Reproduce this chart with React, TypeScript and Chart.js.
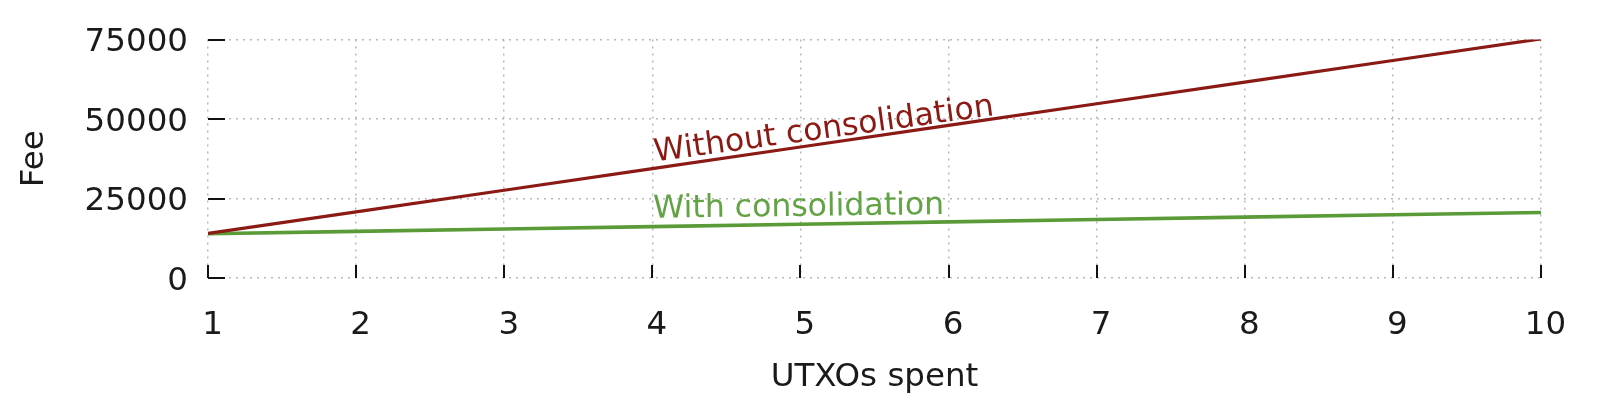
import React, { useEffect, useRef } from "react";
import { Chart, registerables } from "chart.js";

Chart.register(...registerables);

// ---- data ----
const utxosSpent = [1, 2, 3, 4, 5, 6, 7, 8, 9, 10];
const feeWithoutConsolidation = [14000, 20800, 27600, 34400, 41200, 48000, 54800, 61600, 68400, 75200];
const feeWithConsolidation = [13900, 14650, 15400, 16150, 16900, 17650, 18400, 19150, 19900, 20600];
const seriesNames = ["Without consolidation", "With consolidation"];
const xTickValues = [1, 2, 3, 4, 5, 6, 7, 8, 9, 10];
const yTickValues = [0, 25000, 50000, 75000];
const xAxisTitle = "UTXOs spent";
const yAxisTitle = "Fee";
const labelAtUtxos = 4;

// ---- style ----
const FONT = "'DejaVu Sans', sans-serif";
const FONT_SIZE = 32.5;
const TEXT_COLOR = "#1a1a1a";
const RED = "#8b1a14";
const GREEN = "#5a9a37";
const GREEN_TEXT = "#62a343";
const GRID = "#b8b8b8";

const inwardTicks = {
  id: "inwardTicks",
  afterDatasetsDraw(chart: any) {
    const { ctx, chartArea, scales } = chart;
    const x = scales.x;
    const y = scales.y;
    ctx.save();
    ctx.strokeStyle = "#111";
    ctx.lineWidth = 2;
    ctx.beginPath();
    x.ticks.forEach((t: any) => {
      const px = Math.round(x.getPixelForValue(t.value));
      ctx.moveTo(px, chartArea.bottom);
      ctx.lineTo(px, chartArea.bottom - 13);
    });
    y.ticks.forEach((t: any) => {
      const py = Math.round(y.getPixelForValue(t.value));
      ctx.moveTo(chartArea.left, py);
      ctx.lineTo(chartArea.left + 17, py);
    });
    ctx.stroke();
    ctx.restore();
  },
};

const lineLabels = {
  id: "lineLabels",
  afterDatasetsDraw(chart: any) {
    const { ctx, scales } = chart;
    const x = scales.x;
    const y = scales.y;
    const idx = utxosSpent.indexOf(labelAtUtxos);
    const items = [
      { text: seriesNames[0], value: feeWithoutConsolidation[idx], color: RED, dx: 3, dy: -7, angle: 7.8 },
      { text: seriesNames[1], value: feeWithConsolidation[idx], color: GREEN_TEXT, dx: 1, dy: -9, angle: 0.7 },
    ];
    ctx.save();
    ctx.font = `31.5px ${FONT}`;
    ctx.textAlign = "left";
    ctx.textBaseline = "alphabetic";
    items.forEach((it) => {
      const px = x.getPixelForValue(labelAtUtxos) + it.dx;
      const py = y.getPixelForValue(it.value) + it.dy;
      ctx.save();
      ctx.translate(px, py);
      ctx.rotate((-it.angle * Math.PI) / 180);
      ctx.fillStyle = it.color;
      ctx.fillText(it.text, 0, 0);
      ctx.restore();
    });
    ctx.restore();
  },
};

export default function App() {
  const canvasRef = useRef<HTMLCanvasElement | null>(null);

  useEffect(() => {
    document.body.style.margin = "0";
    const canvas = canvasRef.current;
    if (!canvas) return;
    const chart = new Chart(canvas, {
      type: "line",
      data: {
        datasets: [
          {
            label: seriesNames[0],
            data: utxosSpent.map((u, i) => ({ x: u, y: feeWithoutConsolidation[i] })),
            borderColor: RED,
            borderWidth: 3.2,
            pointRadius: 0,
            tension: 0,
            fill: false,
          },
          {
            label: seriesNames[1],
            data: utxosSpent.map((u, i) => ({ x: u, y: feeWithConsolidation[i] })),
            borderColor: GREEN,
            borderWidth: 3.6,
            pointRadius: 0,
            tension: 0,
            fill: false,
          },
        ],
      },
      options: {
        animation: false,
        responsive: false,
        maintainAspectRatio: false,
        layout: { padding: { left: 0, top: 39, right: 59, bottom: 0 } },
        plugins: {
          legend: { display: false },
          tooltip: { enabled: false },
        },
        scales: {
          x: {
            type: "linear",
            min: 1,
            max: 10,
            afterBuildTicks: (scale: any) => {
              scale.ticks = xTickValues.map((v) => ({ value: v }));
            },
            afterFit: (scale: any) => {
              scale.height = 122;
            },
            border: { display: false, dash: [2, 5] },
            grid: {
              color: GRID,
              lineWidth: 1.5,
              drawTicks: false,
            },
            ticks: {
              padding: 28,
              labelOffset: 4.5,
              maxRotation: 0,
              color: TEXT_COLOR,
              font: { family: FONT, size: FONT_SIZE },
            },
            title: {
              display: true,
              text: xAxisTitle,
              color: TEXT_COLOR,
              font: { family: FONT, size: FONT_SIZE, lineHeight: 1.2 },
              padding: { top: 0, bottom: 3 },
            },
          },
          y: {
            type: "linear",
            min: 0,
            max: 75000,
            afterBuildTicks: (scale: any) => {
              scale.ticks = yTickValues.map((v) => ({ value: v }));
            },
            afterFit: (scale: any) => {
              scale.width = 208;
            },
            border: { display: false, dash: [2, 5] },
            grid: {
              color: GRID,
              lineWidth: 1.5,
              drawTicks: false,
            },
            ticks: {
              padding: 20,
              labelOffset: 3.5,
              color: TEXT_COLOR,
              font: { family: FONT, size: FONT_SIZE },
              callback: (v: any) => String(v),
            },
            title: {
              display: true,
              text: yAxisTitle,
              color: TEXT_COLOR,
              font: { family: FONT, size: FONT_SIZE, lineHeight: 1.2 },
              padding: { top: 15, bottom: 0 },
            },
          },
        },
      },
      plugins: [inwardTicks, lineLabels],
    });
    return () => chart.destroy();
  }, []);

  return (
    <div style={{ width: 1600, height: 400, background: "#fff" }}>
      <canvas ref={canvasRef} width={1600} height={400} style={{ display: "block" }} />
    </div>
  );
}
